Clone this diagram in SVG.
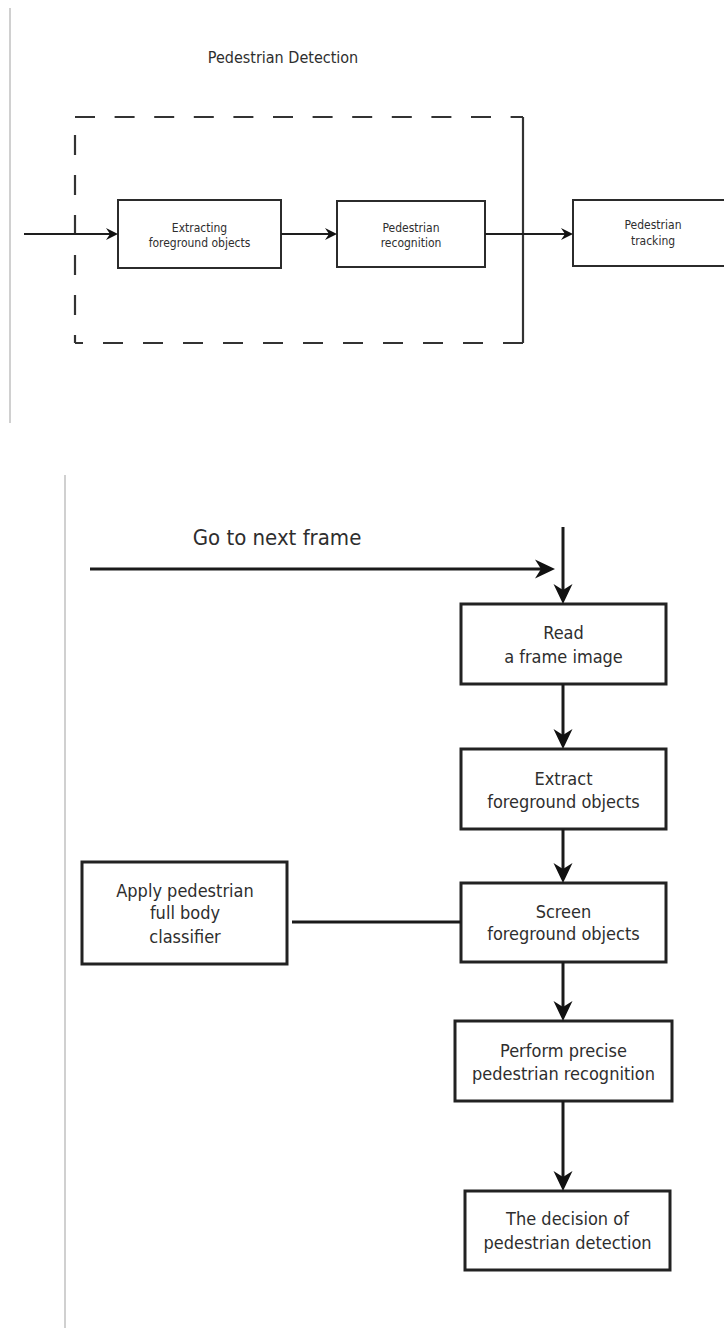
<svg xmlns="http://www.w3.org/2000/svg" width="724" height="1328" viewBox="0 0 724 1328">
<style>
  .bg { fill: #ffffff; }
  .rule { stroke: #d0d0d0; stroke-width: 2; fill: none; }
  .boxS { fill: #ffffff; stroke: #2b2b2b; stroke-width: 2; }
  .boxL { fill: #ffffff; stroke: #222222; stroke-width: 3; }
  .conS { stroke: #1e1e1e; stroke-width: 1.8; fill: none; }
  .conL { stroke: #1a1a1a; stroke-width: 3; fill: none; }
  .dash { stroke: #333333; stroke-width: 2.2; fill: none; stroke-dasharray: 20 20; }
  .dashTop { stroke: #333333; stroke-width: 2.2; fill: none; stroke-dasharray: 20 19.6; }
  text { font-family: "DejaVu Sans Condensed", "DejaVu Sans", sans-serif; font-stretch: condensed; fill: #2e2e2e; text-anchor: middle; }
  .ts { font-size: 12px; }
  .tt { font-size: 16px; }
  .tl { font-size: 18px; }
  .tg { font-size: 22px; }
</style>
<defs>
  <marker id="ahL" markerUnits="userSpaceOnUse" markerWidth="24" markerHeight="22" viewBox="0 -11 24 22" refX="10" refY="0" orient="auto">
    <path d="M20,0 L0,-9.5 L6,0 L0,9.5 Z" fill="#111111"/>
  </marker>
  <marker id="ahS" markerUnits="userSpaceOnUse" markerWidth="14" markerHeight="14" viewBox="0 -7 14 14" refX="6" refY="0" orient="auto">
    <path d="M12,0 L0,-6 L4,0 L0,6 Z" fill="#111111"/>
  </marker>
</defs>
<rect class="bg" x="0" y="0" width="724" height="1328"/>

<!-- page rules -->
<g id="rules">
  <line class="rule" x1="10" y1="8" x2="10" y2="423"/>
  <line class="rule" x1="65" y1="475" x2="65" y2="1328"/>
</g>

<!-- top diagram -->
<g id="title">
  <text class="tt" x="283" y="63">Pedestrian Detection</text>
</g>

<g id="detection-group">
  <line class="dashTop" x1="75" y1="117" x2="523" y2="117"/>
  <line class="dash" x1="75" y1="135" x2="75" y2="343"/>
  <line class="dash" x1="523" y1="343" x2="75" y2="343"/>
  <line class="conS" x1="523" y1="117" x2="523" y2="343" style="stroke-width:2.2;stroke:#333"/>
</g>

<g id="n-extracting">
  <rect class="boxS" x="118" y="200" width="163" height="68"/>
  <text class="ts" x="199.5" y="232">Extracting</text>
  <text class="ts" x="199.5" y="247">foreground objects</text>
</g>
<g id="n-recognition">
  <rect class="boxS" x="337" y="201" width="148" height="66"/>
  <text class="ts" x="411" y="232">Pedestrian</text>
  <text class="ts" x="411" y="247">recognition</text>
</g>
<g id="n-tracking">
  <rect class="boxS" x="573" y="200" width="160" height="66"/>
  <text class="ts" x="653" y="229">Pedestrian</text>
  <text class="ts" x="653" y="245">tracking</text>
</g>

<!-- bottom flowchart -->
<g id="label-next">
  <text class="tg" x="277" y="545">Go to next frame</text>
</g>

<g id="n-read">
  <rect class="boxL" x="461" y="604" width="205" height="80"/>
  <text class="tl" x="563.5" y="639">Read</text>
  <text class="tl" x="563.5" y="663">a frame image</text>
</g>
<g id="n-extract">
  <rect class="boxL" x="461" y="749" width="205" height="80"/>
  <text class="tl" x="563.5" y="785">Extract</text>
  <text class="tl" x="563.5" y="808">foreground objects</text>
</g>
<g id="n-screen">
  <rect class="boxL" x="461" y="883" width="205" height="79"/>
  <text class="tl" x="563.5" y="918">Screen</text>
  <text class="tl" x="563.5" y="940">foreground objects</text>
</g>
<g id="n-classifier">
  <rect class="boxL" x="82" y="862" width="205" height="102"/>
  <text class="tl" x="185" y="897">Apply pedestrian</text>
  <text class="tl" x="185" y="919">full body</text>
  <text class="tl" x="185" y="943">classifier</text>
</g>
<g id="n-precise">
  <rect class="boxL" x="455" y="1021" width="217" height="80"/>
  <text class="tl" x="563.5" y="1057">Perform precise</text>
  <text class="tl" x="563.5" y="1080">pedestrian recognition</text>
</g>
<g id="n-decision">
  <rect class="boxL" x="465" y="1191" width="205" height="79"/>
  <text class="tl" x="567.5" y="1225">The decision of</text>
  <text class="tl" x="567.5" y="1249">pedestrian detection</text>
</g>

<g id="connectors">
  <line class="conS" x1="24" y1="234" x2="112" y2="234" marker-end="url(#ahS)"/>
  <line class="conS" x1="281" y1="234" x2="331" y2="234" marker-end="url(#ahS)"/>
  <line class="conS" x1="485" y1="234" x2="567" y2="234" marker-end="url(#ahS)"/>

  <line class="conL" x1="90" y1="569" x2="545" y2="569" marker-end="url(#ahL)"/>
  <line class="conL" x1="563" y1="527" x2="563" y2="594" marker-end="url(#ahL)"/>
  <line class="conL" x1="563" y1="684" x2="563" y2="739" marker-end="url(#ahL)"/>
  <line class="conL" x1="563" y1="829" x2="563" y2="873" marker-end="url(#ahL)"/>
  <line class="conL" x1="563" y1="962" x2="563" y2="1011" marker-end="url(#ahL)"/>
  <line class="conL" x1="563" y1="1101" x2="563" y2="1181" marker-end="url(#ahL)"/>
  <line class="conL" x1="292" y1="922" x2="461" y2="922"/>
</g>
</svg>
